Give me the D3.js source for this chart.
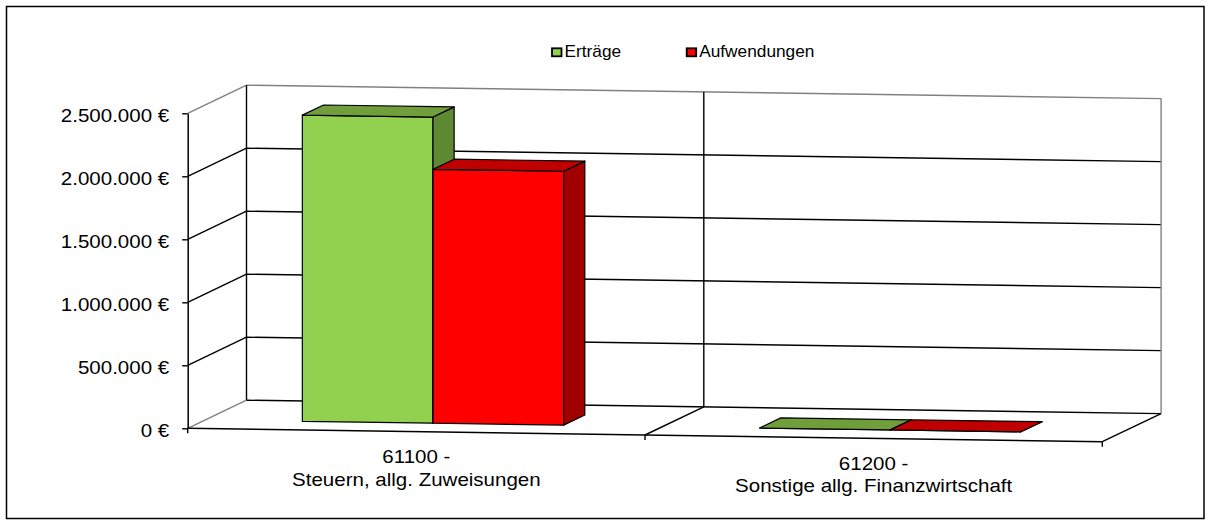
<!DOCTYPE html>
<html>
<head>
<meta charset="utf-8">
<script src="https://cdn.jsdelivr.net/npm/d3@7"></script>
<style>
  html, body { margin: 0; padding: 0; background: #fff; }
  svg { display: block; }
  text { font-family: "Liberation Sans", Arial, sans-serif; fill: #000; }
</style>
</head>
<body>
<svg id="chart" width="1211" height="520"></svg>
<script>
// Kategorien (Produktgruppen) und Reihen
const categoryCodes = ["61100 -", "61200 -"];
const categoryNames = ["Steuern, allg. Zuweisungen", "Sonstige allg. Finanzwirtschaft"];
const seriesNames = ["Erträge", "Aufwendungen"];
const ertraege = [2430000, 0];
const aufwendungen = [2015000, 0];
const yTicks = [0, 500000, 1000000, 1500000, 2000000, 2500000];

const seriesValues = [ertraege, aufwendungen];
const seriesColors = [
  { front: "#92D050", top: "#6F9E3A", side: "#5E8932" },
  { front: "#FF0000", top: "#C00000", side: "#A00000" }
];

const svg = d3.select("#chart");

// Oblique 3D projection: u = pixels along the category axis, v = value, w = depth 0..1
const X0 = 187.7, Y0 = 428.3;   // front-left floor corner
const WIDTH = 914.6;            // length of category axis
const SLOPE = 0.01465;          // floor tilt
const DX = 58.8, DY = -28.1;    // full wall depth
const yMax = 2500000;

const h = d3.scaleLinear().domain([0, yMax]).range([0, 315]);
const xCat = d3.scaleBand().domain(categoryCodes).range([0, WIDTH]).padding(0);
const xSer = d3.scaleBand().domain(seriesNames).range([0, xCat.bandwidth()])
  .paddingInner(0).paddingOuter(0.75);

function P(u, v, w) {
  return [X0 + u + w * DX, Y0 + u * SLOPE - h(v) + w * DY];
}
const line = (a, b, color, width) => svg.append("line")
  .attr("x1", a[0]).attr("y1", a[1]).attr("x2", b[0]).attr("y2", b[1])
  .attr("stroke", color).attr("stroke-width", width || 1);

// Outer chart frame
svg.append("rect").attr("x", 6.5).attr("y", 6.5).attr("width", 1197.5).attr("height", 512)
  .attr("fill", "none").attr("stroke", "#000").attr("stroke-width", 1.5);

const GREY = "#808080", DARK = "#000";
const LW = 1.4;

// Back wall and side wall gridlines
yTicks.forEach(v => {
  const top = v === yMax;
  line(P(0, v, 1), P(WIDTH, v, 1), top ? GREY : DARK, LW);
  line(P(0, v, 0), P(0, v, 1), (top || v === 0) ? GREY : DARK, LW);
});
// Wall verticals
line(P(0, 0, 1), P(0, yMax, 1), DARK, LW);
line(P(WIDTH / 2, 0, 1), P(WIDTH / 2, yMax, 1), DARK, LW);
line(P(WIDTH, 0, 1), P(WIDTH, yMax, 1), GREY, LW);
// Floor edges
line(P(WIDTH / 2, 0, 0), P(WIDTH / 2, 0, 1), DARK, LW);
line(P(WIDTH, 0, 0), P(WIDTH, 0, 1), DARK, LW);
line(P(0, 0, 0), P(WIDTH, 0, 0), DARK, LW);
// Category tick marks
[0, WIDTH / 2, WIDTH].forEach(u => {
  const p = P(u, 0, 0);
  line(p, [p[0], p[1] + 5], DARK, LW);
});

// Value axis (front left)
const yScreen = d3.scaleLinear().domain([0, yMax]).range([Y0, Y0 - h(yMax)]);
const de = d3.formatLocale({ decimal: ",", thousands: ".", grouping: [3], currency: ["", " €"] });
const fmt = v => de.format(",.0f")(v) + " €";
const TXS = 1.14;
const yAxis = svg.append("g")
  .attr("transform", `translate(${X0},0)`)
  .call(d3.axisLeft(yScreen).tickValues(yTicks).tickFormat(fmt).tickSize(5.5).tickSizeOuter(0));
yAxis.select(".domain").attr("stroke", DARK).attr("stroke-width", 1.5);
yAxis.selectAll(".tick line").attr("stroke", DARK).attr("stroke-width", LW);
yAxis.selectAll(".tick text")
  .attr("font-size", 18)
  .attr("font-family", "Liberation Sans, Arial, sans-serif")
  .attr("fill", "#000")
  .attr("x", -18.5 / TXS)
  .attr("dy", "0.45em")
  .attr("transform", `scale(${TXS},1)`);

// Bars, back to front within each category
const W0 = 0.30, W1 = 0.66;
const poly = (pts, fill) => svg.append("polygon")
  .attr("points", pts.map(p => p.join(",")).join(" "))
  .attr("fill", fill).attr("stroke", "#000").attr("stroke-width", 1.2)
  .attr("stroke-linejoin", "round");

categoryCodes.forEach((cat, i) => {
  seriesNames.forEach((s, j) => {
    const v = seriesValues[j][i];
    const u0 = xCat(cat) + xSer(s) - 1, u1 = u0 + xSer.bandwidth();
    const c = seriesColors[j];
    poly([P(u0, 0, W0), P(u1, 0, W0), P(u1, v, W0), P(u0, v, W0)], c.front);
    poly([P(u1, 0, W0), P(u1, 0, W1), P(u1, v, W1), P(u1, v, W0)], c.side);
    poly([P(u0, v, W0), P(u1, v, W0), P(u1, v, W1), P(u0, v, W1)], c.top);
  });
});

// Category labels
categoryCodes.forEach((cat, i) => {
  const p = P(xCat(cat) + xCat.bandwidth() / 2, 0, 0);
  const g = svg.append("g").attr("transform", `translate(${p[0]},${p[1]}) scale(${TXS},1)`);
  g.append("text").attr("x", 0).attr("y", 31.6).attr("text-anchor", "middle")
    .attr("font-size", 18).text(cat);
  g.append("text").attr("x", 0).attr("y", 54).attr("text-anchor", "middle")
    .attr("font-size", 18).text(categoryNames[i]);
});

// Legend
const legendX = [552, 686.7];
seriesNames.forEach((s, j) => {
  svg.append("rect").attr("x", legendX[j]).attr("y", 48.3).attr("width", 9.5).attr("height", 8)
    .attr("fill", seriesColors[j].front).attr("stroke", "#000").attr("stroke-width", 1.8);
  svg.append("g").attr("transform", `translate(${legendX[j] + 12.5},56.7) scale(1.08,1)`)
    .append("text").attr("font-size", 16).text(s);
});
</script>
</body>
</html>
